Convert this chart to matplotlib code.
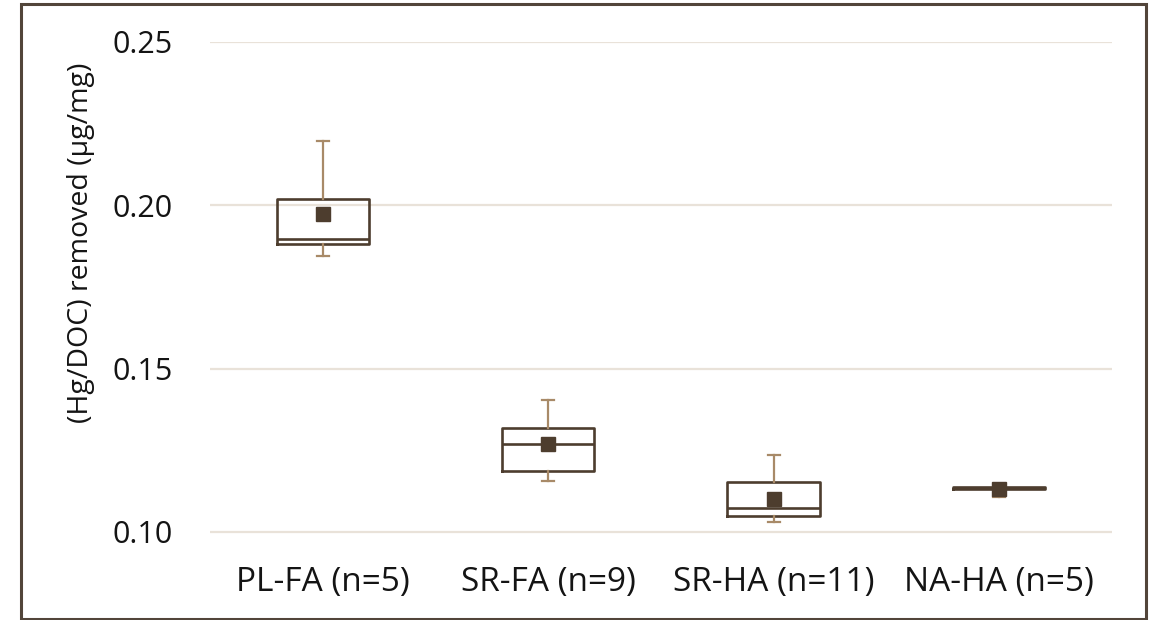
import matplotlib.pyplot as plt
from matplotlib.patches import Rectangle

# Data
categories = ["PL-FA (n=5)", "SR-FA (n=9)", "SR-HA (n=11)", "NA-HA (n=5)"]
whisker_low = [0.1845, 0.1156, 0.1031, 0.1106]
q1 = [0.1882, 0.1188, 0.1049, 0.1131]
median = [0.1897, 0.1269, 0.1073, 0.1134]
q3 = [0.2020, 0.1318, 0.1154, 0.1137]
whisker_high = [0.2198, 0.1404, 0.1237, 0.1137]
mean = [0.1974, 0.1268, 0.1102, 0.1133]

box_color = "#4d3d2e"
whisk_color = "#a88a68"
grid_color = "#e9e2d9"
text_color = "#141414"

plt.rcParams['font.family'] = ['Open Sans', 'DejaVu Sans']

fig = plt.figure(figsize=(11.5, 6.2), dpi=100)
ax = fig.add_axes([0.1826, 0.0919, 0.7843, 0.8404])

stats = []
for i, name in enumerate(categories):
    stats.append({
        "label": name,
        "whislo": whisker_low[i],
        "q1": q1[i],
        "med": median[i],
        "q3": q3[i],
        "whishi": whisker_high[i],
        "mean": mean[i],
        "fliers": [],
    })

ax.bxp(stats, positions=range(1, len(categories) + 1), widths=0.41,
       showmeans=True, showfliers=False, capwidths=0.055,
       boxprops=dict(color=box_color, linewidth=1.9),
       medianprops=dict(color=box_color, linewidth=1.9),
       whiskerprops=dict(color=whisk_color, linewidth=1.6),
       capprops=dict(color=whisk_color, linewidth=1.6),
       meanprops=dict(marker="s", markersize=10, markerfacecolor=box_color,
                      markeredgecolor=box_color))

ax.set_xlim(0.5, len(categories) + 0.5)
ax.set_ylim(0.0905, 0.25)
ax.set_yticks([0.10, 0.15, 0.20, 0.25])
ax.set_yticklabels(["0.10", "0.15", "0.20", "0.25"])
ax.yaxis.grid(True, color=grid_color, linewidth=1.6)
ax.set_axisbelow(True)
for s in ax.spines.values():
    s.set_visible(False)
ax.tick_params(axis="y", length=0, pad=27, labelsize=22, colors=text_color)
ax.tick_params(axis="x", length=0, pad=2, labelsize=24, colors=text_color)
ax.set_ylabel("(Hg/DOC) removed (µg/mg)", fontsize=20.5, color=text_color)
ax.yaxis.set_label_coords(-0.128, 0.614)

# chart border
fig.patches.append(Rectangle((21 / 1150, 1 - 619 / 620), 1125 / 1150, 615 / 620,
                             transform=fig.transFigure, fill=False,
                             edgecolor="#52453a", linewidth=2.2))

fig.savefig("out.png", dpi=100)
